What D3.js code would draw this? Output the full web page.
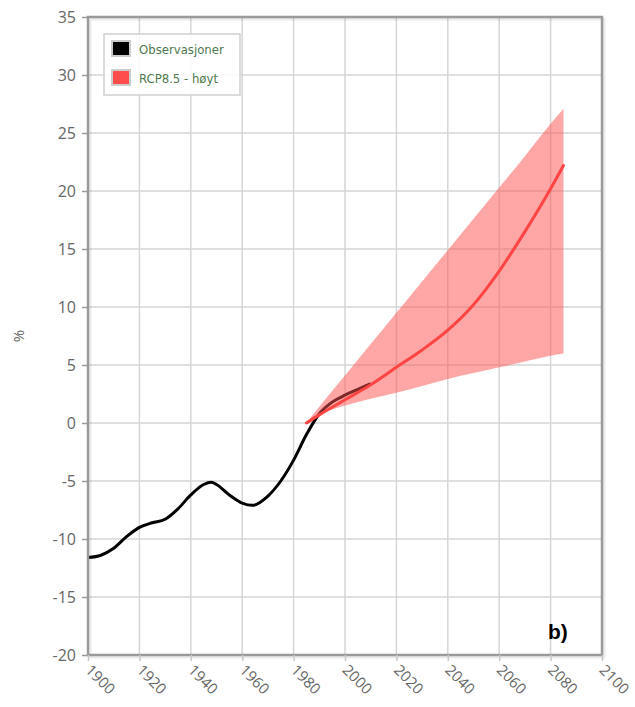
<!DOCTYPE html>
<html>
<head>
<meta charset="utf-8">
<script src="https://cdn.jsdelivr.net/npm/d3@7"></script>
<style>
  body { margin: 0; background: #fff; }
  svg { display: block; }
</style>
</head>
<body>
<div id="chart"></div>
<script>
// Observasjoner
var obsYears = [1900, 1905, 1910, 1915, 1920, 1925, 1930, 1935, 1940, 1945, 1948, 1950, 1955, 1960, 1964, 1970, 1975, 1980, 1985, 1990, 1995, 2000, 2005, 2010];
var obsValues = [-11.6, -11.4, -10.8, -9.8, -9.0, -8.6, -8.3, -7.4, -6.2, -5.3, -5.1, -5.3, -6.2, -6.9, -7.1, -6.3, -5.0, -3.2, -1.0, 0.8, 1.8, 2.4, 2.9, 3.4];

// RCP8.5 - høyt
var rcpYears = [1985, 1990, 2000, 2010, 2020, 2030, 2040, 2050, 2060, 2070, 2080, 2085];
var rcpMedian = [0, 0.7, 2.0, 3.3, 4.8, 6.3, 8.0, 10.2, 13.1, 16.5, 20.2, 22.2];
var rcpLow = [0, 0.7, 1.5, 2.1, 2.6, 3.2, 3.8, 4.3, 4.8, 5.3, 5.8, 6.0];
var rcpHigh = [0, 1.4, 4.1, 6.8, 9.5, 12.2, 14.9, 17.6, 20.3, 23.0, 25.8, 27.1];

var xTicks = [1900, 1920, 1940, 1960, 1980, 2000, 2020, 2040, 2060, 2080, 2100];
var yTicks = [-20, -15, -10, -5, 0, 5, 10, 15, 20, 25, 30, 35];
var legendLabels = ["Observasjoner", "RCP8.5 - høyt"];

var width = 635;
var height = 707;
var margin = { top: 17, right: 33, bottom: 52, left: 88 };

var svg = d3.select("#chart")
    .append("svg")
    .attr("width", width)
    .attr("height", height);

var x = d3.scaleLinear()
    .domain([1900, 2100])
    .range([margin.left, width - margin.right]);

var y = d3.scaleLinear()
    .domain([-20, 35])
    .range([height - margin.bottom, margin.top]);

// rutenett
svg.append("g")
    .selectAll("line")
    .data(xTicks)
    .join("line")
    .attr("x1", function(d) { return x(d); })
    .attr("x2", function(d) { return x(d); })
    .attr("y1", y(35))
    .attr("y2", y(-20))
    .attr("stroke", "#d6d6d6")
    .attr("stroke-width", 1.5);

svg.append("g")
    .selectAll("line")
    .data(yTicks)
    .join("line")
    .attr("x1", x(1900))
    .attr("x2", x(2100))
    .attr("y1", function(d) { return y(d); })
    .attr("y2", function(d) { return y(d); })
    .attr("stroke", "#d6d6d6")
    .attr("stroke-width", 1.5);

var obs = obsYears.map(function(d, i) { return { year: d, v: obsValues[i] }; });
var rcp = rcpYears.map(function(d, i) {
    return { year: d, m: rcpMedian[i], lo: rcpLow[i], hi: rcpHigh[i] };
});

// observasjoner
svg.append("path")
    .datum(obs)
    .attr("fill", "none")
    .attr("stroke", "#000")
    .attr("stroke-width", 3)
    .attr("d", d3.line()
        .x(function(d) { return x(d.year); })
        .y(function(d) { return y(d.v); })
        .curve(d3.curveMonotoneX));

// usikkerhetsbånd
svg.append("path")
    .datum(rcp)
    .attr("fill", "#ff4d4d")
    .attr("fill-opacity", 0.5)
    .attr("d", d3.area()
        .x(function(d) { return x(d.year); })
        .y0(function(d) { return y(d.lo); })
        .y1(function(d) { return y(d.hi); })
        .curve(d3.curveMonotoneX));

svg.append("path")
    .datum(rcp)
    .attr("fill", "none")
    .attr("stroke", "#ff4444")
    .attr("stroke-width", 3)
    .attr("stroke-linecap", "round")
    .attr("d", d3.line()
        .x(function(d) { return x(d.year); })
        .y(function(d) { return y(d.m); })
        .curve(d3.curveMonotoneX));

// ramme
svg.append("rect")
    .attr("x", x(1900) + 2)
    .attr("y", y(35) + 2)
    .attr("width", x(2100) - x(1900))
    .attr("height", y(-20) - y(35))
    .attr("fill", "none")
    .attr("stroke", "#000")
    .attr("stroke-opacity", 0.08)
    .attr("stroke-width", 3);

svg.append("rect")
    .attr("x", x(1900))
    .attr("y", y(35))
    .attr("width", x(2100) - x(1900))
    .attr("height", y(-20) - y(35))
    .attr("fill", "none")
    .attr("stroke", "#9a9a9a")
    .attr("stroke-width", 2.5);

// akser
var yAxis = svg.append("g")
    .attr("transform", "translate(" + x(1900) + ",0)")
    .call(d3.axisLeft(y).tickValues(yTicks)
        .tickFormat(function(d) { return String(d); })
        .tickSize(6).tickPadding(6));
yAxis.select(".domain").remove();
yAxis.selectAll("line").attr("stroke", "#9a9a9a").attr("stroke-width", 1.5);
yAxis.selectAll("text")
    .attr("fill", "#666")
    .style("font-family", "'Open Sans', sans-serif")
    .style("font-size", "16px");

var xAxis = svg.append("g")
    .attr("transform", "translate(0," + y(-20) + ")")
    .call(d3.axisBottom(x).tickValues(xTicks).tickFormat(d3.format("d")).tickSize(6));
xAxis.select(".domain").remove();
xAxis.selectAll("line").attr("stroke", "#c8c8c8").attr("stroke-width", 1.5);
xAxis.selectAll("text")
    .attr("fill", "#666")
    .attr("text-anchor", "start")
    .attr("dy", null)
    .attr("y", 0)
    .attr("transform", "translate(-4,16) rotate(45)")
    .style("font-family", "'Open Sans', sans-serif")
    .style("font-size", "15px");

svg.append("text")
    .attr("transform", "translate(24," + y(7.5) + ") rotate(-90)")
    .attr("text-anchor", "middle")
    .attr("fill", "#666")
    .style("font-family", "'Open Sans', sans-serif")
    .style("font-size", "15px")
    .text("%");

// legende
var legend = svg.append("g").attr("transform", "translate(104,34)");
legend.append("rect")
    .attr("width", 136)
    .attr("height", 61)
    .attr("fill", "#fff")
    .attr("fill-opacity", 0.85)
    .attr("stroke", "#d0d0d0")
    .attr("stroke-width", 1.5);

var legendColors = ["#000", "#ff4d4d"];
var items = legend.selectAll("g.item")
    .data(legendLabels)
    .join("g")
    .attr("class", "item")
    .attr("transform", function(d, i) { return "translate(8," + (7 + i * 29) + ")"; });

items.append("rect")
    .attr("width", 18)
    .attr("height", 15)
    .attr("fill", function(d, i) { return legendColors[i]; })
    .attr("stroke", "#ccc")
    .attr("stroke-width", 2);

items.append("text")
    .attr("x", 27)
    .attr("y", 13)
    .attr("fill", "#4e7a4e")
    .style("font-family", "'DejaVu Sans Condensed', sans-serif")
    .style("font-size", "13px")
    .text(function(d) { return d; });

svg.append("text")
    .attr("x", 548)
    .attr("y", 639)
    .attr("fill", "#000")
    .style("font-family", "'Liberation Sans', Arial, sans-serif")
    .style("font-weight", "bold")
    .style("font-size", "21px")
    .text("b)");
</script>
</body>
</html>
